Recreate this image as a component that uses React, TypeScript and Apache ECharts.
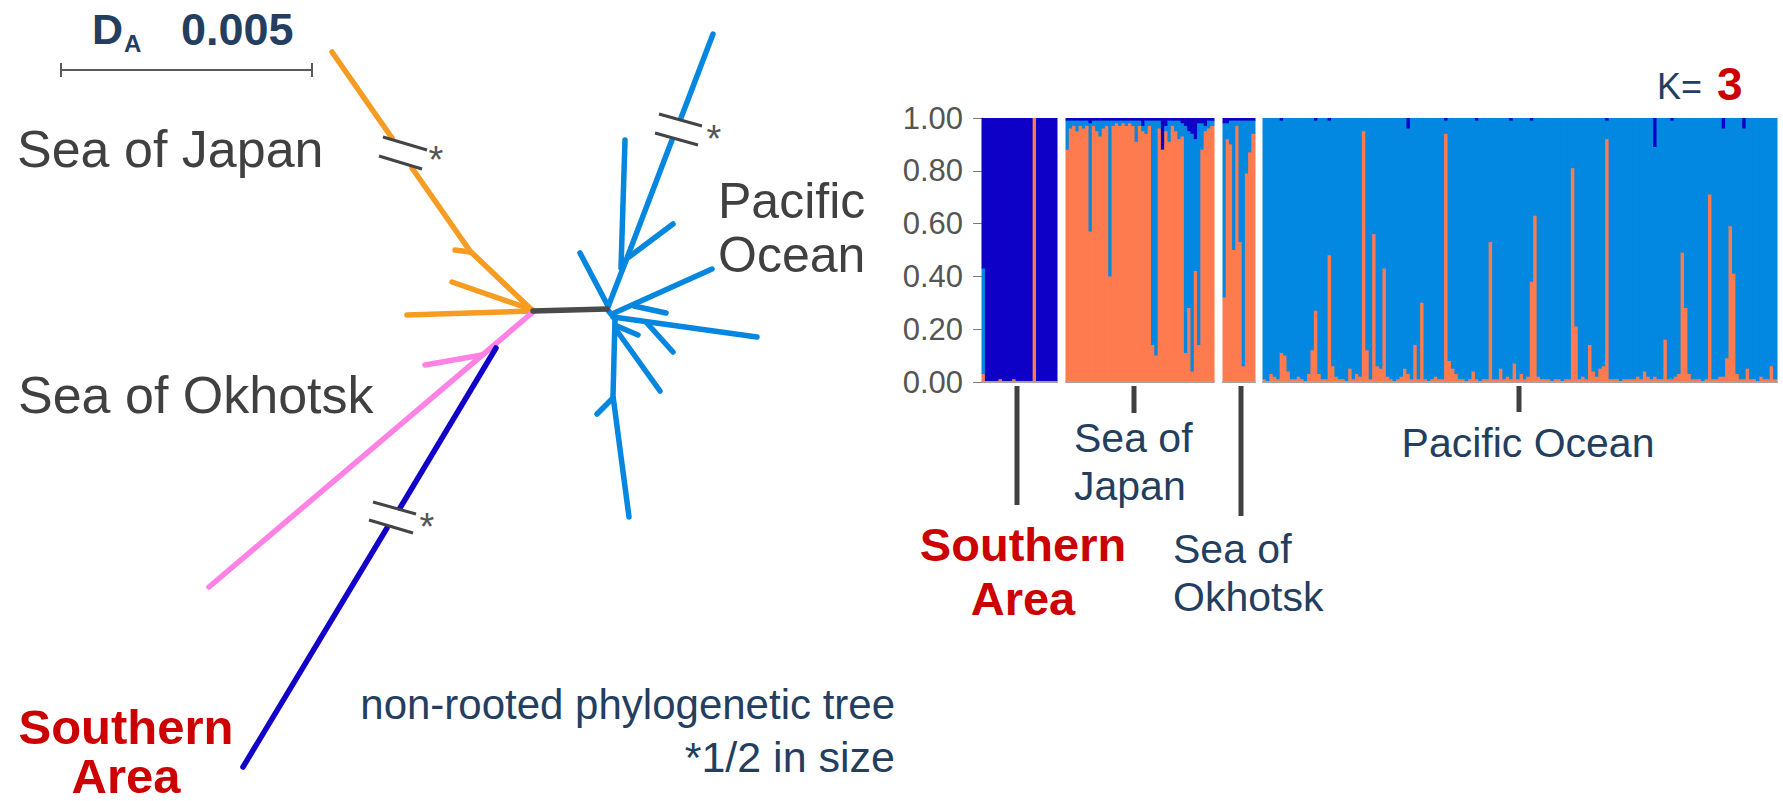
import React, { useEffect, useRef } from "react";
import * as echarts from "echarts";

// ---------------- Phylogenetic tree (branch polylines in figure units) ----------------
const japanBranches: number[][][] = [
  [[332, 52], [392, 138]],
  [[412, 168], [470, 251], [533, 311]],
  [[455, 250], [470, 252]],
  [[452, 282], [533, 310]],
  [[407, 315], [533, 311]],
];
const okhotskBranches: number[][][] = [
  [[533, 312], [209, 587]],
  [[425, 365], [482, 355]],
];
const southernBranches: number[][][] = [
  [[496, 348], [400, 508]],
  [[387, 528], [243, 767]],
];
const internalBranch: number[][][] = [[[533, 311], [607, 309]]];
const pacificBranches: number[][][] = [
  [[713, 34], [681, 118]],
  [[672, 140], [627, 258], [608, 307]],
  [[625, 140], [621, 268]],
  [[673, 224], [629, 257]],
  [[580, 253], [608, 306]],
  [[712, 269], [612, 314]],
  [[666, 313], [634, 306]],
  [[757, 337], [613, 317]],
  [[638, 335], [617, 326]],
  [[673, 352], [646, 322]],
  [[660, 391], [617, 331]],
  [[615, 319], [613, 396], [629, 517]],
  [[597, 414], [613, 398]],
  [[607, 309], [615, 319]],
];

// ---------------- STRUCTURE K=3 membership (per individual) ----------------
const regions = ["Southern Area", "Sea of Japan", "Sea of Okhotsk", "Pacific Ocean"];
const yTicks = [0, 0.2, 0.4, 0.6, 0.8, 1.0];

const southernOrange = [0.03, 0, 0, 0, 0, 0.01, 0, 0, 0, 0.01, 0, 0, 0, 0, 0, 1.0, 0, 0, 0, 0, 0, 0];
const southernBlue = [0.40, 0, 0, 0, 0, 0, 0, 0, 0, 0, 0, 0, 0, 0, 0, 0, 0, 0, 0, 0, 0, 0];
const southernDark = [0.57, 1, 1, 1, 1, 0.99, 1, 1, 1, 0.99, 1, 1, 1, 1, 1, 0, 1, 1, 1, 1, 1, 1];

const japanOrange = [
  0.88, 0.96, 0.97, 0.95, 0.97, 0.96, 0.97, 0.57, 0.97, 0.95,
  0.93, 0.96, 0.97, 0.40, 0.97, 0.98, 0.97, 0.98, 0.97, 0.98,
  0.97, 0.91, 0.97, 0.95, 0.94, 0.97, 0.14, 0.10, 0.96, 0.88,
  0.95, 0.91, 0.97, 0.95, 0.92, 0.93, 0.11, 0.28, 0.04, 0.42,
  0.14, 0.88, 0.95, 0.96, 0.97,
];
const japanBlue = [
  0.11, 0.03, 0.02, 0.04, 0.02, 0.03, 0.02, 0.41, 0.02, 0.04,
  0.06, 0.03, 0.02, 0.59, 0.02, 0.01, 0.02, 0.01, 0.02, 0.01,
  0.02, 0.08, 0.02, 0.02, 0.05, 0.02, 0.85, 0.89, 0.03, 0.00,
  0.02, 0.08, 0.02, 0.04, 0.07, 0.05, 0.86, 0.67, 0.90, 0.50,
  0.84, 0.10, 0.02, 0.03, 0.02,
];
const japanDark = [
  0.01, 0.01, 0.01, 0.01, 0.01, 0.01, 0.01, 0.02, 0.01, 0.01,
  0.01, 0.01, 0.01, 0.01, 0.01, 0.01, 0.01, 0.01, 0.01, 0.01,
  0.01, 0.01, 0.01, 0.03, 0.01, 0.01, 0.01, 0.01, 0.01, 0.12,
  0.03, 0.01, 0.01, 0.01, 0.01, 0.02, 0.03, 0.05, 0.06, 0.08,
  0.02, 0.02, 0.03, 0.01, 0.01,
];

const okhotskOrange = [0.32, 0.92, 0.90, 0.50, 0.97, 0.53, 0.06, 0.79, 0.87, 0.94];
const okhotskBlue = [0.66, 0.06, 0.09, 0.49, 0.02, 0.46, 0.93, 0.20, 0.12, 0.05];
const okhotskDark = [0.02, 0.02, 0.01, 0.01, 0.01, 0.01, 0.01, 0.01, 0.01, 0.01];

const pacificOrange = [
  0.01, 0.00, 0.03, 0.02, 0.01, 0.11, 0.10, 0.04, 0.01, 0.01,
  0.02, 0.01, 0.00, 0.03, 0.12, 0.27, 0.03, 0.01, 0.01, 0.48,
  0.06, 0.02, 0.01, 0.01, 0.00, 0.05, 0.01, 0.03, 0.02, 0.95,
  0.12, 0.01, 0.56, 0.06, 0.05, 0.43, 0.02, 0.01, 0.00, 0.01,
  0.02, 0.05, 0.03, 0.01, 0.14, 0.01, 0.30, 0.01, 0.00, 0.01,
  0.02, 0.01, 0.01, 0.94, 0.08, 0.05, 0.03, 0.01, 0.01, 0.00,
  0.01, 0.04, 0.01, 0.00, 0.01, 0.01, 0.53, 0.01, 0.01, 0.05,
  0.01, 0.02, 0.01, 0.07, 0.01, 0.03, 0.01, 0.02, 0.38, 0.63,
  0.02, 0.01, 0.01, 0.01, 0.00, 0.01, 0.01, 0.00, 0.01, 0.01,
  0.81, 0.21, 0.01, 0.02, 0.01, 0.14, 0.04, 0.02, 0.05, 0.06,
  0.92, 0.01, 0.01, 0.01, 0.00, 0.01, 0.01, 0.01, 0.01, 0.02,
  0.01, 0.04, 0.02, 0.01, 0.02, 0.01, 0.01, 0.16, 0.01, 0.01,
  0.02, 0.03, 0.49, 0.28, 0.03, 0.01, 0.01, 0.01, 0.00, 0.01,
  0.71, 0.01, 0.01, 0.02, 0.02, 0.09, 0.59, 0.41, 0.03, 0.01,
  0.01, 0.05, 0.01, 0.01, 0.00, 0.02, 0.01, 0.01, 0.06, 0.01,
];
const pacificBlue = [
  0.99, 1.00, 0.97, 0.98, 0.99, 0.88, 0.90, 0.96, 0.99, 0.99,
  0.98, 0.99, 1.00, 0.97, 0.88, 0.72, 0.97, 0.99, 0.99, 0.51,
  0.94, 0.98, 0.99, 0.99, 1.00, 0.95, 0.99, 0.97, 0.98, 0.05,
  0.88, 0.99, 0.44, 0.94, 0.95, 0.57, 0.98, 0.99, 1.00, 0.99,
  0.98, 0.95, 0.93, 0.99, 0.86, 0.99, 0.70, 0.99, 1.00, 0.99,
  0.98, 0.99, 0.99, 0.05, 0.92, 0.95, 0.97, 0.99, 0.99, 1.00,
  0.99, 0.96, 0.98, 1.00, 0.99, 0.99, 0.47, 0.99, 0.99, 0.95,
  0.99, 0.98, 0.98, 0.93, 0.99, 0.97, 0.99, 0.98, 0.61, 0.37,
  0.98, 0.99, 0.99, 0.99, 1.00, 0.99, 0.99, 1.00, 0.99, 0.99,
  0.19, 0.79, 0.99, 0.98, 0.99, 0.86, 0.96, 0.98, 0.95, 0.94,
  0.07, 0.99, 0.99, 0.99, 1.00, 0.99, 0.99, 0.99, 0.99, 0.98,
  0.99, 0.96, 0.98, 0.99, 0.87, 0.99, 0.99, 0.84, 0.99, 0.98,
  0.98, 0.97, 0.51, 0.72, 0.97, 0.99, 0.99, 0.99, 1.00, 0.99,
  0.29, 0.99, 0.99, 0.98, 0.94, 0.91, 0.41, 0.59, 0.97, 0.99,
  0.95, 0.95, 0.99, 0.99, 1.00, 0.98, 0.99, 0.99, 0.94, 0.99,
];
const pacificDark = [
  0, 0, 0, 0, 0, 0.01, 0, 0, 0, 0,
  0, 0, 0, 0, 0, 0.01, 0, 0, 0, 0.01,
  0, 0, 0, 0, 0, 0, 0, 0, 0, 0,
  0, 0, 0, 0, 0, 0, 0, 0, 0, 0,
  0, 0, 0.04, 0, 0, 0, 0, 0, 0, 0,
  0, 0, 0, 0.01, 0, 0, 0, 0, 0, 0,
  0, 0, 0.01, 0, 0, 0, 0, 0, 0, 0,
  0, 0, 0.01, 0, 0, 0, 0, 0, 0.01, 0,
  0, 0, 0, 0, 0, 0, 0, 0, 0, 0,
  0, 0, 0, 0, 0, 0, 0, 0, 0, 0,
  0.01, 0, 0, 0, 0, 0, 0, 0, 0, 0,
  0, 0, 0, 0, 0.11, 0, 0, 0, 0, 0.01,
  0, 0, 0, 0, 0, 0, 0, 0, 0, 0,
  0, 0, 0, 0, 0.04, 0, 0, 0, 0, 0,
  0.04, 0, 0, 0, 0, 0, 0, 0, 0, 0,
];

const blocks = [
  { orange: southernOrange, blue: southernBlue, dark: southernDark },
  { orange: japanOrange, blue: japanBlue, dark: japanDark },
  { orange: okhotskOrange, blue: okhotskBlue, dark: okhotskDark },
  { orange: pacificOrange, blue: pacificBlue, dark: pacificDark },
];

// ---------------- styles ----------------
const C_ORANGE_TREE = "#f79c22";
const C_PINK = "#ff82e4";
const C_DARK = "#1200c8";
const C_BLUE = "#0587e0";
const C_GRAY = "#4a4a4a";
const C_BAR_ORANGE = "#fd7b4f";
const C_BAR_BLUE = "#0288e0";
const C_BAR_DARK = "#0e00c6";
const C_TEXT = "#404040";
const C_NAVY = "#233e5f";
const C_RED = "#cc0000";
const SANS = "'Liberation Sans', Arial, sans-serif";
const NARROW = "'Liberation Sans Narrow', 'Arial Narrow', 'Liberation Sans', sans-serif";

const blockLayout = [
  { left: 982, width: 75 },
  { left: 1066, width: 148 },
  { left: 1223, width: 32 },
  { left: 1263, width: 514 },
];
const BAR_TOP = 118;
const BAR_H = 264;

function treeSeries(branches: number[][][], color: string) {
  return {
    type: "lines",
    coordinateSystem: "cartesian2d",
    xAxisIndex: 0,
    yAxisIndex: 0,
    polyline: true,
    silent: true,
    data: branches.map((c) => ({ coords: c })),
    lineStyle: { color, width: 5.5, cap: "round", join: "round", opacity: 1 },
    z: 3,
  };
}

function txt(text: string, x: number, y: number, size: number, fill: string, opts: any = {}) {
  return {
    type: "text",
    x,
    y,
    silent: true,
    style: {
      text,
      fill,
      fontSize: size,
      fontFamily: opts.family || SANS,
      fontWeight: opts.weight || "normal",
      lineHeight: opts.lineHeight,
      textAlign: opts.align || "left",
      textVerticalAlign: opts.valign || "middle",
      verticalAlign: opts.valign || "middle",
    },
    z: 10,
  };
}

function seg(x1: number, y1: number, x2: number, y2: number, stroke: string, w: number) {
  return {
    type: "line",
    silent: true,
    shape: { x1, y1, x2, y2 },
    style: { stroke, lineWidth: w },
    z: 10,
  };
}

// stacked membership column (orange, blue, dark from bottom to top) drawn through the axes' scales
const SHARE_COLORS = [C_BAR_ORANGE, C_BAR_BLUE, C_BAR_DARK];
function renderMembership(_params: any, api: any) {
  const i = api.value(0);
  const shares = [api.value(1), api.value(2), api.value(3)];
  const band = api.size([1, 0])[0];
  const xc = api.coord([i, 0])[0];
  const children: any[] = [];
  let cum = 0;
  shares.forEach((s: number, k: number) => {
    if (!(s > 0)) return;
    const yBot = api.coord([i, cum])[1];
    const yTop = api.coord([i, cum + s])[1];
    cum += s;
    const hasAbove = shares.slice(k + 1).some((v: number) => v > 0);
    const ext = hasAbove ? 0.7 : 0;
    children.push({
      type: "rect",
      shape: { x: xc - band / 2 - 0.5, y: yTop - ext, width: band + 1, height: yBot - yTop + ext },
      style: { fill: SHARE_COLORS[k] },
    });
  });
  return { type: "group", children };
}

function buildOption() {
  const grid: any[] = [
    { left: 0, top: 0, width: 1783, height: 801, outerBoundsMode: "none" },
    ...blockLayout.map((b) => ({ left: b.left, top: BAR_TOP, width: b.width, height: BAR_H, outerBoundsMode: "none" })),
  ];
  const xAxis: any[] = [
    { type: "value", gridIndex: 0, min: 0, max: 1783, show: false },
    ...blocks.map((b, k) => ({
      type: "category",
      gridIndex: k + 1,
      data: b.orange.map((_, i) => regions[k] + " " + (i + 1)),
      axisLabel: { show: false },
      axisTick: { show: false },
      axisLine: { show: true, lineStyle: { color: "#a3a3a3", width: 2 } },
      splitLine: { show: false },
      z: 5,
    })),
  ];
  const yAxis: any[] = [
    { type: "value", gridIndex: 0, min: 0, max: 801, inverse: true, show: false },
    ...blocks.map((_, k) => ({
      type: "value",
      gridIndex: k + 1,
      min: yTicks[0],
      max: yTicks[yTicks.length - 1],
      interval: 0.2,
      show: k === 0,
      axisLine: { show: true, lineStyle: { color: "#7a7a7a", width: 1 } },
      axisTick: { show: true, length: 9, lineStyle: { color: "#7a7a7a", width: 1 } },
      axisLabel: {
        show: true,
        margin: 19,
        formatter: (v: number) => v.toFixed(2),
        color: "#555555",
        fontSize: 31,
        fontFamily: NARROW,
      },
      splitLine: { show: false },
    })),
  ];

  const series: any[] = [
    treeSeries(japanBranches, C_ORANGE_TREE),
    treeSeries(okhotskBranches, C_PINK),
    treeSeries(southernBranches, C_DARK),
    treeSeries(pacificBranches, C_BLUE),
    treeSeries(internalBranch, C_GRAY),
  ];
  blocks.forEach((b, k) => {
    series.push({
      type: "custom",
      name: regions[k],
      xAxisIndex: k + 1,
      yAxisIndex: k + 1,
      silent: true,
      clip: false,
      encode: { x: 0, y: [1, 2, 3] },
      data: b.orange.map((o, i) => [i, o, b.blue[i], b.dark[i]]),
      renderItem: renderMembership,
      z: 2,
    });
  });

  const graphic: any[] = [
    // scale bar
    seg(61, 70, 312, 70, "#5a5a5a", 2),
    seg(61, 63, 61, 77, "#5a5a5a", 2),
    seg(312, 63, 312, 77, "#5a5a5a", 2),
    txt("D", 92, 29, 43, C_NAVY, { weight: "bold" }),
    txt("A", 124, 43, 24, C_NAVY, { weight: "bold" }),
    txt("0.005", 181, 29, 45, C_NAVY, { weight: "bold" }),
    // break marks
    seg(383, 137, 427, 150, "#444", 3),
    seg(379, 156, 422, 169, "#444", 3),
    txt("*", 436, 160, 38, "#555", { align: "center" }),
    seg(659, 114, 702, 126, "#444", 3),
    seg(655, 133, 698, 145, "#444", 3),
    txt("*", 714, 139, 38, "#555", { align: "center" }),
    seg(373, 502, 416, 514, "#444", 3),
    seg(369, 520, 413, 533, "#444", 3),
    txt("*", 427, 527, 38, "#555", { align: "center" }),
    // tree labels
    txt("Sea of Japan", 17, 149, 52, C_TEXT),
    txt("Sea of Okhotsk", 18, 395, 52, C_TEXT),
    txt("Pacific\nOcean", 718, 228, 50, C_TEXT, { lineHeight: 54 }),
    txt("Southern\nArea", 126, 800, 49, C_RED, { weight: "bold", align: "center", valign: "bottom", lineHeight: 49 }),
    txt("non-rooted phylogenetic tree", 895, 704, 42, C_NAVY, { align: "right" }),
    txt("*1/2 in size", 895, 757, 43, C_NAVY, { align: "right" }),
    // structure plot labels
    txt("K=", 1657, 86, 36, C_NAVY),
    txt("3", 1717, 84, 46, C_RED, { weight: "bold" }),
    seg(1017, 386, 1017, 505, "#404040", 5),
    seg(1134, 386, 1134, 413, "#404040", 5),
    seg(1241, 386, 1241, 516, "#404040", 5),
    seg(1519, 386, 1519, 412, "#404040", 5),
    txt("Sea of\nJapan", 1074, 462, 41, C_NAVY, { lineHeight: 48 }),
    txt("Pacific Ocean", 1528, 443, 41, C_NAVY, { align: "center" }),
    txt("Sea of\nOkhotsk", 1173, 573, 41, C_NAVY, { lineHeight: 48 }),
    txt("Southern\nArea", 1023, 571, 47, C_RED, { weight: "bold", align: "center", lineHeight: 54 }),
  ];

  return {
    animation: false,
    backgroundColor: "#ffffff",
    grid,
    xAxis,
    yAxis,
    series,
    graphic,
  };
}

export default function App() {
  const ref = useRef<HTMLDivElement>(null);
  useEffect(() => {
    if (!ref.current) return;
    const chart = echarts.init(ref.current, null, { renderer: "svg" });
    chart.setOption(buildOption() as any);
    return () => chart.dispose();
  }, []);
  return (
    <div
      ref={ref}
      style={{ position: "absolute", left: 0, top: 0, width: 1783, height: 801, background: "#fff" }}
    />
  );
}
